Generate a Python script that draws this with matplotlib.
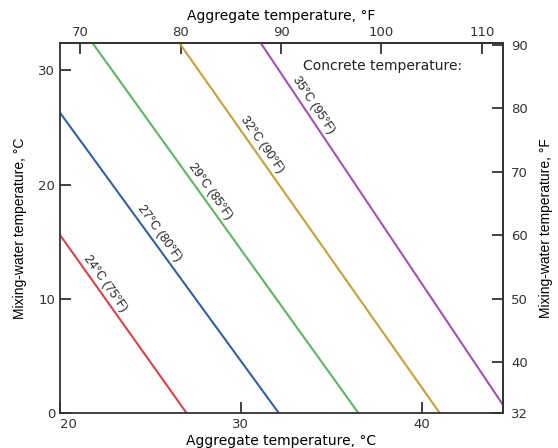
import numpy as np
from matplotlib import pyplot as plt

plt.rcParams['font.family'] = ['DejaVu Sans']
plt.rcParams['text.color'] = '#222222'

# concrete temperature lines: endpoints (aggregate °C, mixing-water °C)
labels = ['24°C (75°F)', '27°C (80°F)', '29°C (85°F)', '32°C (90°F)', '35°C (95°F)']
x_start = [20.0, 20.0, 21.8, 26.6, 31.1]
y_start = [15.6, 26.3, 32.4, 32.4, 32.4]
x_end = [27.0, 32.1, 36.5, 41.0, 44.5]
y_end = [0.0, 0.0, 0.0, 0.0, 0.7]
colors = ['#e0404a', '#2e62a8', '#5cb860', '#c8a035', '#a452b4']
# where along each line its label sits (fraction from start)
label_pos = [0.30, 0.42, 0.415, 0.29, 0.186]

top_ticks = [70, 80, 90, 100, 110]
right_ticks = [32, 40, 50, 60, 70, 80, 90]

narrow = ['Liberation Sans Narrow', 'Liberation Sans']


def c2f(c):
    return c * 9.0 / 5.0 + 32


def f2c(f):
    return (f - 32) * 5.0 / 9.0


fig = plt.figure(figsize=(5.58, 4.48), dpi=100)
ax = fig.add_axes([0.1075, 0.078, 0.794, 0.826])

for i in range(len(labels)):
    ax.plot([x_start[i], x_end[i]], [y_start[i], y_end[i]], color=colors[i], lw=1.5)

ax.set_xlim(20, 44.5)
ax.set_ylim(0, 32.4)

fig.canvas.draw()
for i in range(len(labels)):
    p0 = ax.transData.transform((x_start[i], y_start[i]))
    p1 = ax.transData.transform((x_end[i], y_end[i]))
    ang = np.degrees(np.arctan2(p1[1] - p0[1], p1[0] - p0[0]))
    t = label_pos[i]
    xm = x_start[i] + t * (x_end[i] - x_start[i])
    ym = y_start[i] + t * (y_end[i] - y_start[i])
    # push the label off the line, towards the top of the text
    off = 6.5
    dx = -np.sin(np.radians(ang)) * off
    dy = np.cos(np.radians(ang)) * off
    ax.annotate(labels[i], (xm, ym), xytext=(dx, dy), textcoords='offset points',
                rotation=ang, rotation_mode='anchor', ha='center', va='center',
                fontsize=9, family=narrow)

ax.text(0.549, 0.938, 'Concrete temperature:', transform=ax.transAxes,
        fontsize=10, va='center', ha='left')

ax.set_xticks([20, 30, 40])
ax.set_yticks([0, 10, 20, 30])
ax.tick_params(direction='in', length=8, width=1.3, labelsize=9.5,
               colors='#333333', labelcolor='#333333')
# keep the corner labels "0" and "20" apart
ax.xaxis.get_major_ticks()[0].label1.set_horizontalalignment('left')
ax.set_xlabel('Aggregate temperature, °C', fontsize=10, labelpad=2)
ax.set_ylabel('Mixing-water temperature, °C', fontsize=10, labelpad=8, family=narrow)

top = ax.secondary_xaxis('top', functions=(c2f, f2c))
top.set_xticks(top_ticks)
top.tick_params(direction='in', length=8, width=1.3, labelsize=9.5, pad=3,
                colors='#333333', labelcolor='#333333')
top.set_xlabel('Aggregate temperature, °F', fontsize=10, labelpad=4)

right = ax.secondary_yaxis('right', functions=(c2f, f2c))
right.set_yticks(right_ticks)
right.tick_params(direction='in', length=8, width=1.3, labelsize=9.5, pad=6,
                  colors='#333333', labelcolor='#333333')
right.set_ylabel('Mixing-water temperature, °F', fontsize=10, labelpad=8, family=narrow)

for sp in list(ax.spines.values()) + [top.spines['top'], right.spines['right']]:
    sp.set_linewidth(1.3)
    sp.set_color('#333333')

plt.savefig('out.png', dpi=100)
